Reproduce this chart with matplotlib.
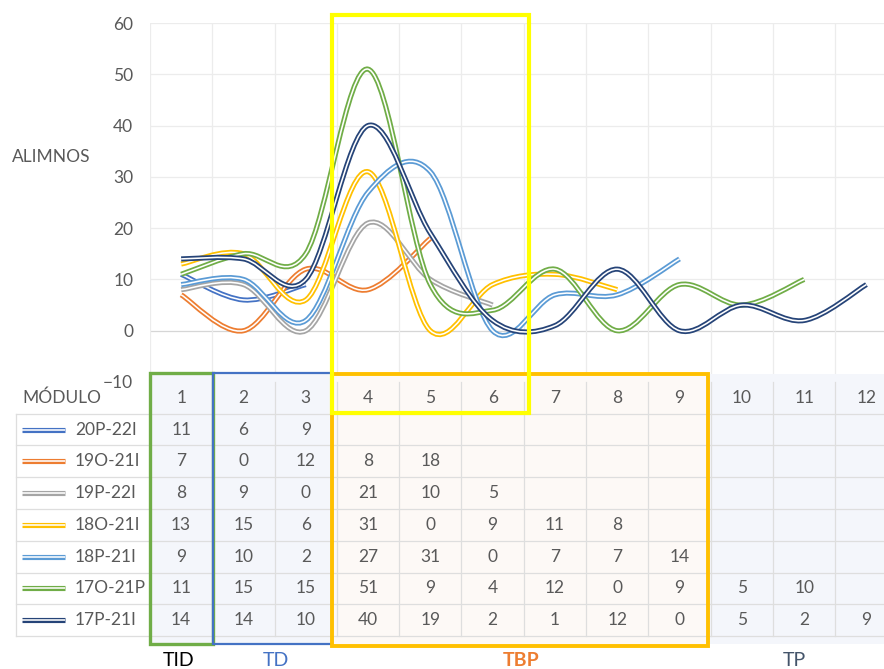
import numpy as np
import matplotlib
matplotlib.use('Agg')
import matplotlib.pyplot as plt
from matplotlib.path import Path
from matplotlib.patches import PathPatch, Rectangle
from matplotlib.transforms import Affine2D

plt.rcParams['font.family'] = ['Lato', 'DejaVu Sans']

MODULES = list(range(1, 13))
SERIES = ['20P-22I', '19O-21I', '19P-22I', '18O-21I', '18P-21I', '17O-21P', '17P-21I']
VALUES = {
    '20P-22I': [11, 6, 9],
    '19O-21I': [7, 0, 12, 8, 18],
    '19P-22I': [8, 9, 0, 21, 10, 5],
    '18O-21I': [13, 15, 6, 31, 0, 9, 11, 8],
    '18P-21I': [9, 10, 2, 27, 31, 0, 7, 7, 14],
    '17O-21P': [11, 15, 15, 51, 9, 4, 12, 0, 9, 5, 10],
    '17P-21I': [14, 14, 10, 40, 19, 2, 1, 12, 0, 5, 2, 9],
}
COLORS = {
    '20P-22I': '#4472C4',
    '19O-21I': '#ED7D31',
    '19P-22I': '#A5A5A5',
    '18O-21I': '#FFC000',
    '18P-21I': '#5B9BD5',
    '17O-21P': '#70AD47',
    '17P-21I': '#264478',
}
Y_TICKS = [60, 50, 40, 30, 20, 10, 0, -10]
GROUP_LABELS = ['TID', 'TD', 'TBP', 'TP']

TEXT = '#595959'
GRID = '#ECECEC'
CELL = '#DEDEDE'
W, H = 884, 669
COL_W = 62.3
LW_OUT, LW_IN = 3.7, 1.15


def smooth_path(xs, ys):
    # cubic bezier through every point, tangents taken from the neighbours
    pts = np.column_stack([xs, ys]).astype(float)
    n = len(pts)
    verts, codes = [pts[0]], [Path.MOVETO]
    for i in range(n - 1):
        p0 = pts[max(i - 1, 0)]
        p1, p2 = pts[i], pts[i + 1]
        p3 = pts[min(i + 2, n - 1)]
        verts += [p1 + (p2 - p0) / 6, p2 - (p3 - p1) / 6, p2]
        codes += [Path.CURVE4] * 3
    return Path(verts, codes)


def double_line(ax, path, color, z):
    ax.add_patch(PathPatch(path, fc='none', ec=color, lw=LW_OUT, capstyle='butt', zorder=z))
    ax.add_patch(PathPatch(path, fc='none', ec='white', lw=LW_IN, capstyle='butt', zorder=z + 0.01))


fig = plt.figure(figsize=(W / 100, H / 100), dpi=100)
# pixel coordinates, origin top left
px = Affine2D().scale(1 / W, -1 / H).translate(0, 1) + fig.transFigure

ax = fig.add_axes([150 / W, 1 - 382 / H, 12 * COL_W / W, (382 - 23) / H])
ax.set_facecolor('none')
ax.set_xlim(0.5, 12.5)
ax.set_ylim(-10, 60)
for s in ax.spines.values():
    s.set_visible(False)
ax.set_xticks([])
ax.set_yticks(Y_TICKS)
ax.tick_params(axis='y', length=0, pad=12, labelsize=12.5, labelcolor=TEXT)
for y in Y_TICKS:
    ax.axhline(y, color='#D6D6D6' if y == 0 else GRID, lw=0.9, zorder=0)
for x in np.arange(0.5, 13, 1):
    ax.axvline(x, color=GRID, lw=0.9, zorder=0)

for i, name in enumerate(SERIES):
    vals = VALUES[name]
    double_line(ax, smooth_path(MODULES[:len(vals)], vals), COLORS[name], 2 + i * 0.1)

fig.text(12 / W, 1 - 157 / H, 'ALIMNOS', fontsize=12.5, color=TEXT, va='center', ha='left')

# data table under the plot
tax = fig.add_axes([150 / W, 1 - 636 / H, 12 * COL_W / W, (636 - 382) / H])
tax.set_facecolor('none')
tax.set_xlim(0.5, 12.5)
tax.set_ylim(8, 0)
tax.axis('off')


def tx(p):
    return 0.5 + (p - 150) / COL_W


# shaded blocks behind the table
for x0, x1, fc in [(150, 332, '#F4F6FB'), (332, 708, '#FDF9F6'), (708, 900, '#F4F6FB')]:
    tax.add_patch(Rectangle((x0, 374), x1 - x0, 270, transform=px, fc=fc, ec='none',
                            clip_on=False, zorder=0))

for r in range(1, 9):
    tax.plot([tx(16), 12.6], [r, r], color=CELL, lw=0.9, clip_on=False, zorder=1)
for x in np.arange(0.5, 12.5, 1):
    tax.plot([x, x], [0, 8], color=CELL, lw=0.9, clip_on=False, zorder=1)
tax.plot([tx(16), tx(16)], [1, 8], color=CELL, lw=0.9, clip_on=False, zorder=1)

tax.text(tx(22), 0.5, 'MÓDULO', fontsize=12.5, color=TEXT, ha='left', va='center')
for m in MODULES:
    tax.text(m, 0.5, str(m), fontsize=12.5, color=TEXT, ha='center', va='center')

for r, name in enumerate(SERIES, start=1):
    c = COLORS[name]
    tax.plot([tx(22), tx(65)], [r + 0.5] * 2, color=c, lw=LW_OUT, solid_capstyle='butt',
             clip_on=False, zorder=3)
    tax.plot([tx(22), tx(65)], [r + 0.5] * 2, color='white', lw=LW_IN, solid_capstyle='butt',
             clip_on=False, zorder=3.1)
    tax.text(tx(75), r + 0.5, name, fontsize=12.5, color=TEXT, ha='left', va='center')
    for m, v in zip(MODULES, VALUES[name]):
        tax.text(m, r + 0.5, str(v), fontsize=12.5, color=TEXT, ha='center', va='center')

# stage frames
frames = [
    (150, 373, 213, 644, '#70AD47', 2.4),
    (213, 373, 332, 644, '#4472C4', 1.6),
    (332, 374, 708, 646, '#FFC000', 2.8),
    (332, 15, 529, 413, '#FFFF00', 3.0),
]
for x0, y0, x1, y1, ec, lw in frames:
    fig.add_artist(Rectangle((x0, y0), x1 - x0, y1 - y0, transform=px, fc='none',
                             ec=ec, lw=lw, zorder=5))

label_style = [
    (179, '#000000', 'normal'),
    (276, '#4472C4', 'normal'),
    (521, '#ED7D31', 'bold'),
    (794, '#44546A', 'normal'),
]
for text, (x, color, weight) in zip(GROUP_LABELS, label_style):
    fig.text(x / W, 1 - 660 / H, text, fontsize=14, color=color, fontweight=weight,
             ha='center', va='center')

fig.savefig('out.png', dpi=100)
